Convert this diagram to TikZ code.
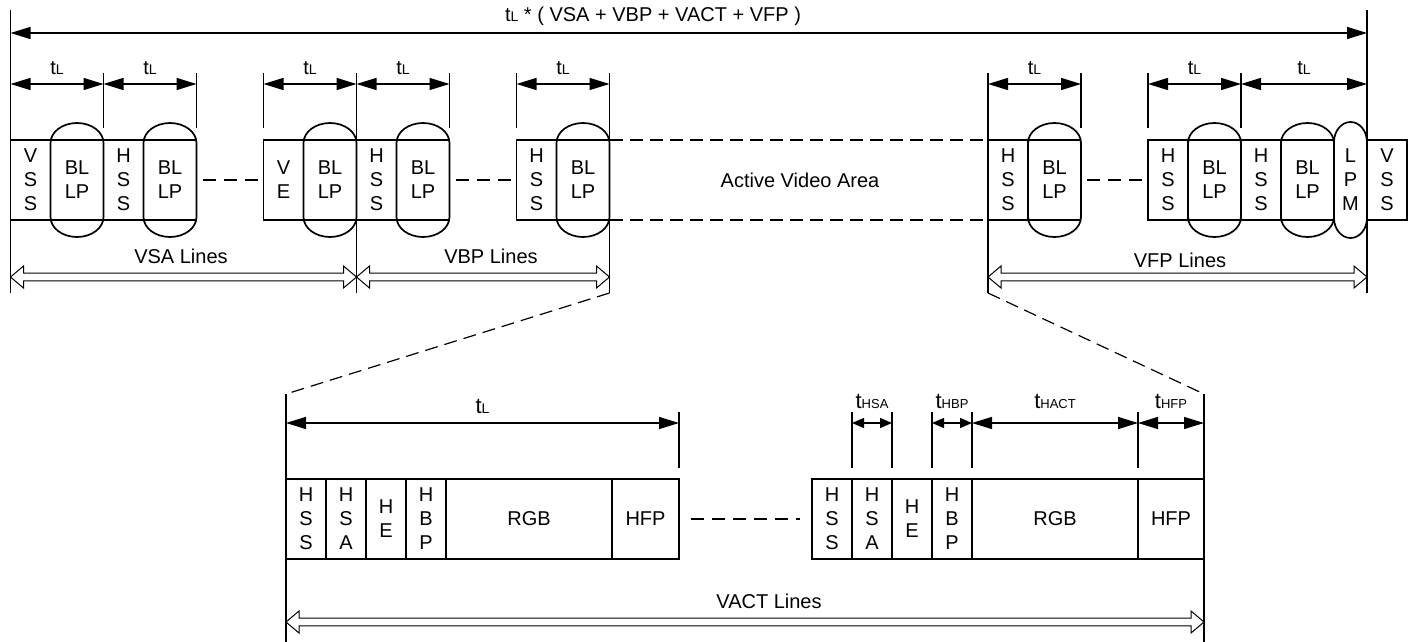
\documentclass[tikz,border=0pt]{standalone}
\usepackage{fontspec}
\setmainfont{Liberation Sans}
\usetikzlibrary{calc, arrows.meta, positioning}
\newcommand{\tsub}[1]{{\fontsize{7}{8}\selectfont #1}}
\newcommand{\bsub}[1]{{\fontsize{6.5}{8}\selectfont #1}}

\begin{document}
\begin{tikzpicture}[
    x=0.5pt, y=-0.5pt,
    font=\fontsize{10}{12}\selectfont,
    cell/.style={draw, line width=0.85pt, minimum width=20pt, minimum height=40pt, inner sep=0pt, outer sep=0pt, align=center},
    capsule/.style={to path={let \p1=(\tikztostart), \p2=(\tikztotarget) in
      (\x1,\y1+10pt) -- (\x1,\y2-10pt) arc[start angle=180, end angle=0, x radius=#1, y radius=10pt]
      -- (\x2,\y1+10pt) arc[start angle=0, end angle=-180, x radius=#1, y radius=10pt] -- cycle}},
    blp/.style={cell, draw=none, minimum width=26.5pt, minimum height=57pt,
      path picture={\draw[line width=0.85pt] ([yshift=20pt]path picture bounding box.west) -- ([yshift=20pt]path picture bounding box.east)
        ([yshift=-20pt]path picture bounding box.west) -- ([yshift=-20pt]path picture bounding box.east);},
      append after command={(\tikzlastnode.south west) edge[draw, line width=0.85pt, capsule=13.25pt] (\tikzlastnode.north east)}},
    pill/.style={cell, draw=none, minimum width=16.5pt, minimum height=58pt,
      append after command={(\tikzlastnode.south west) edge[draw, line width=0.85pt, capsule=8.25pt] (\tikzlastnode.north east)}},
    tick/.style={line width=0.6pt},
    dim/.style={line width=0.75pt, {Triangle[length=10pt,width=6pt]}-{Triangle[length=10pt,width=6pt]}},
    dimsm/.style={line width=0.75pt, {Triangle[length=6pt,width=5pt]}-{Triangle[length=6pt,width=5pt]}},
    gap/.style={line width=1.1pt, dash pattern=on 6.5pt off 4pt},
    zoomln/.style={line width=0.6pt, dash pattern=on 6.5pt off 3.5pt},
    lines/.style={line width=0.5pt, to path={let \p1=(\tikztostart), \p2=(\tikztotarget) in
      -- (\x1+6.5pt,\y1+5.5pt) -- (\x1+6.5pt,\y1+1.9pt) -- (\x2-6.5pt,\y1+1.9pt) -- (\x2-6.5pt,\y1+5.5pt)
      -- (\p2) -- (\x2-6.5pt,\y1-5.5pt) -- (\x2-6.5pt,\y1-1.9pt) -- (\x1+6.5pt,\y1-1.9pt) -- (\x1+6.5pt,\y1-5.5pt) -- cycle}}
  ]
    \useasboundingbox (0,0) rectangle (1413,642);

    % levels
    \coordinate (frT) at (0,10);
    \coordinate (topY) at (0,33);
    \coordinate (tkT) at (0,73);
    \coordinate (dimY) at (0,84);
    \coordinate (tkB) at (0,128);
    \coordinate (lnY) at (0,277);
    \coordinate (frB) at (0,293);
    \coordinate (zT) at (0,394);
    \coordinate (btkT) at (0,412);
    \coordinate (bdimY) at (0,423);
    \coordinate (btkB) at (0,468);
    \coordinate (blnY) at (0,622);
    \coordinate (bEnd) at (0,642);

    % vertical timing, left part
    \node[cell] (vss) at (30.5,180) {V\\S\\S};
    \node[blp, right=0pt of vss] (blp1) {BL\\LP};
    \node[cell, right=0pt of blp1] (hss1) {H\\S\\S};
    \node[blp, right=0pt of hss1] (blp2) {BL\\LP};
    \node[cell, right=33.5pt of blp2] (ve) {V\\E};
    \node[blp, right=0pt of ve] (blp3) {BL\\LP};
    \node[cell, right=0pt of blp3] (hss2) {H\\S\\S};
    \node[blp, right=0pt of hss2] (blp4) {BL\\LP};
    \node[cell, right=33.5pt of blp4] (hss3) {H\\S\\S};
    \node[blp, right=0pt of hss3] (blp5) {BL\\LP};

    % vertical timing, right part
    \node[cell] (hss4) at (1008,180) {H\\S\\S};
    \node[blp, right=0pt of hss4] (blp6) {BL\\LP};
    \node[cell, right=33.5pt of blp6] (hss5) {H\\S\\S};
    \node[blp, right=0pt of hss5] (blp7) {BL\\LP};
    \node[cell, right=0pt of blp7] (hss6) {H\\S\\S};
    \node[blp, right=0pt of hss6] (blp8) {BL\\LP};
    \node[pill, right=0pt of blp8] (lpm) {L\\P\\M};
    \node[cell, right=0pt of lpm] (vss2) {V\\S\\S};

    \node (ava) at (800,180) {Active Video Area};
    \draw[zoomln] (blp5.east |- hss4.north) -- (hss4.north west);
    \draw[zoomln] (blp5.east |- hss4.south) -- (hss4.south west);
    \draw[gap] ([xshift=3pt]blp2.east) -- ([xshift=-3pt]ve.west);
    \draw[gap] ([xshift=3pt]blp4.east) -- ([xshift=-3pt]hss3.west);
    \draw[gap] ([xshift=3pt]blp6.east) -- ([xshift=-3pt]hss5.west);

    \foreach \n in {blp1.east, blp2.east, ve.west, blp4.east, hss3.west, blp6.east, hss5.west, blp7.east}
      \draw[tick] (\n |- tkT) -- (\n |- tkB);
    \foreach \n in {blp3.east, blp5.east, hss4.west}
      \draw[tick] (\n |- tkT) -- (\n |- frB);
    \foreach \n in {vss.west, lpm.east}
      \draw[tick] (\n |- frT) -- (\n |- frB);

    \node (title) at (653,16) {t\tsub{L} * ( VSA + VBP + VACT + VFP )};
    \draw[dim] (vss.west |- topY) -- (lpm.east |- topY);
    \foreach \a/\b in {vss.west/blp1.east, blp1.east/blp2.east, ve.west/blp3.east, blp3.east/blp4.east,
                       hss3.west/blp5.east, hss4.west/blp6.east, hss5.west/blp7.east, blp7.east/lpm.east}
      \draw[dim] (\a |- dimY) -- node[above=1pt] {t\tsub{L}} (\b |- dimY);

    \draw[lines] (vss.west |- lnY) to (blp3.east |- lnY);
    \draw[lines] (blp3.east |- lnY) to (blp5.east |- lnY);
    \draw[lines] (hss4.west |- lnY) to (lpm.east |- lnY);
    \node (vsa) at (181,256) {VSA Lines};
    \node (vbp) at (491,256) {VBP Lines};
    \node (vfp) at (1180,260) {VFP Lines};

    % one line, zoomed
    \node[cell] (hss7) at (306,519) {H\\S\\S};
    \node[cell, right=0pt of hss7] (hsa1) {H\\S\\A};
    \node[cell, right=0pt of hsa1] (he1) {H\\E};
    \node[cell, right=0pt of he1] (hbp1) {H\\B\\P};
    \node[cell, right=0pt of hbp1, minimum width=83pt] (rgb1) {RGB};
    \node[cell, right=0pt of rgb1, minimum width=33.5pt] (hfp1) {HFP};
    \node[cell, right=66.5pt of hfp1] (hss8) {H\\S\\S};
    \node[cell, right=0pt of hss8] (hsa2) {H\\S\\A};
    \node[cell, right=0pt of hsa2] (he2) {H\\E};
    \node[cell, right=0pt of he2] (hbp2) {H\\B\\P};
    \node[cell, right=0pt of hbp2, minimum width=83pt] (rgb2) {RGB};
    \node[cell, right=0pt of rgb2, minimum width=33pt] (hfp2) {HFP};
    \draw[gap] ([xshift=6pt]hfp1.east) -- ([xshift=-6pt]hss8.west);

    \draw[zoomln] (blp5.east |- frB) -- (hss7.west |- zT);
    \draw[tick] (hss7.west |- zT) -- (hss7.west |- bEnd);
    \draw[zoomln] (hss4.west |- frB) -- (hfp2.east |- zT);
    \draw[tick] (hfp2.east |- zT) -- (hfp2.east |- bEnd);
    \foreach \n in {hfp1.east, hsa2.west, hsa2.east, hbp2.west, hbp2.east, hfp2.west}
      \draw[tick] (\n |- btkT) -- (\n |- btkB);

    \draw[dim] (hss7.west |- bdimY) -- node[above=1pt] {{\fontsize{11}{12}\selectfont t}\tsub{L}} (hfp1.east |- bdimY);
    \draw[dimsm] (hsa2.west |- bdimY) -- node[above=3.5pt] {{\fontsize{11}{12}\selectfont t}\bsub{HSA}} (hsa2.east |- bdimY);
    \draw[dimsm] (hbp2.west |- bdimY) -- node[above=3.5pt] {{\fontsize{11}{12}\selectfont t}\bsub{HBP}} (hbp2.east |- bdimY);
    \draw[dim] (hbp2.east |- bdimY) -- node[above=3.5pt] {{\fontsize{11}{12}\selectfont t}\bsub{HACT}} (hfp2.west |- bdimY);
    \draw[dim] (hfp2.west |- bdimY) -- node[above=3.5pt] {{\fontsize{11}{12}\selectfont t}\bsub{HFP}} (hfp2.east |- bdimY);

    \draw[lines] (hss7.west |- blnY) to (hfp2.east |- blnY);
    \node (vact) at (769,601) {VACT Lines};
\end{tikzpicture}
\end{document}
